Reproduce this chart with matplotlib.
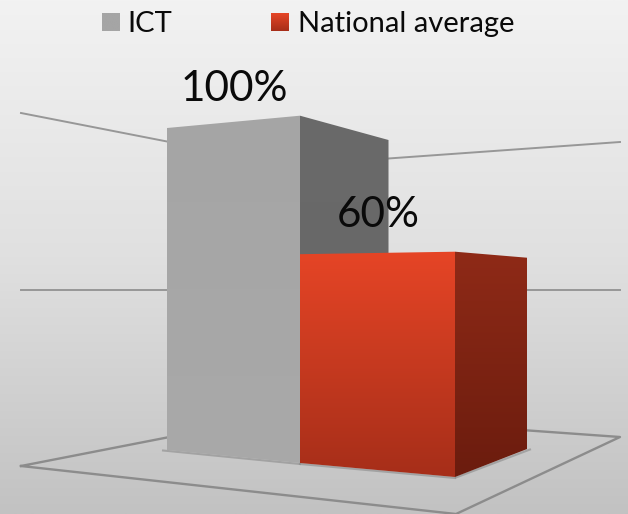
# -*- coding: utf-8 -*-
"""3D style column chart, ICT against the national average."""
import numpy as np
import matplotlib
matplotlib.use("Agg")
import matplotlib.pyplot as plt
from matplotlib.colors import LinearSegmentedColormap
from matplotlib.patches import Polygon

"DATA"
series = ["ICT", "National average"]
values = [100, 60]
labels = ["100%", "60%"]
grid_values = [50, 100]

"PROJECTION: pixel x, pixel y of the floor point, pixels per 1%"
wall_left = (21, 466, 3.53)
wall_back = (290, 413.5, 2.48)
wall_right = (620, 437, 2.95)
floor_front = (456, 514)

ict_fl = (167, 450, 3.22)
ict_fr = (300, 463, 3.473)
ict_br = (388.5, 430, 2.9)
nat_fl = (300, 463, 3.48)
nat_fr = (455, 477, 3.755)
nat_br = (527, 449, 3.188)


def up(c, v):
    return (c[0], c[1] - c[2] * v)


def base(c):
    return (c[0], c[1])


def fill(ax, pts, top_col, bot_col, zorder):
    # vertical gradient clipped to the polygon
    ys = [p[1] for p in pts]
    xs = [p[0] for p in pts]
    cm = LinearSegmentedColormap.from_list("f", [top_col, bot_col])
    im = ax.imshow(np.linspace(0, 1, 256).reshape(-1, 1), cmap=cm, aspect="auto",
                   extent=(min(xs), max(xs), max(ys), min(ys)), zorder=zorder)
    poly = Polygon(pts, closed=True, fc="none", ec="none", transform=ax.transData)
    ax.add_patch(poly)
    im.set_clip_path(poly)


fig = plt.figure(figsize=(6.28, 5.14), dpi=100)
ax = fig.add_axes([0, 0, 1, 1])
plt.rcParams["font.family"] = ["Lato", "DejaVu Sans"]

"BACKGROUND"
bg = LinearSegmentedColormap.from_list("bg", ["#f2f2f2", "#e0e0e0", "#c2c2c2"])
ax.imshow(np.linspace(0, 1, 256).reshape(-1, 1), cmap=bg, aspect="auto",
          extent=(0, 628, 514, 0), zorder=0)

"GRID AND FLOOR"
gc = "#979797"
for g in grid_values:
    a, b, c = up(wall_left, g), up(wall_back, g), up(wall_right, g)
    ax.plot([a[0], b[0], c[0]], [a[1], b[1], c[1]], color=gc, lw=1.4, zorder=1)
fx = [wall_left[0], wall_back[0], wall_right[0], floor_front[0], wall_left[0]]
fy = [wall_left[1], wall_back[1], wall_right[1], floor_front[1], wall_left[1]]
ax.plot(fx, fy, color="#8c8c8c", lw=1.7, zorder=1)

"BARS"
v = values[0]
ax.plot([ict_fl[0] - 4, ict_fr[0]], [ict_fl[1] + 0.5, ict_fr[1] + 1], color="#8a8a8a", lw=1.5,
        alpha=0.6, zorder=1.5)
fill(ax, [up(ict_fr, v), up(ict_br, v), base(ict_br), base(ict_fr)], "#6a6a6a", "#666666", 2)
fill(ax, [up(ict_fl, v), up(ict_fr, v), base(ict_fr), base(ict_fl)], "#a5a5a5", "#a9a9a9", 3)

v = values[1]
ax.plot([nat_fl[0], nat_fr[0]], [nat_fl[1] + 1, nat_fr[1] + 1], color="#8a8a8a", lw=1.5,
        alpha=0.6, zorder=3)
ax.plot([nat_fr[0] + 1, nat_br[0] + 3], [nat_fr[1] + 0.5, nat_br[1] + 0.5], color="#8a8a8a", lw=1.5,
        alpha=0.6, zorder=3)
fill(ax, [up(nat_fr, v), up(nat_br, v), base(nat_br), base(nat_fr)], "#8f2a17", "#6b1c0e", 4)
fill(ax, [up(nat_fl, v), up(nat_fr, v), base(nat_fr), base(nat_fl)], "#e64526", "#a62e19", 5)

"LABELS"
ax.text(234.5, 89, labels[0], fontsize=30.5, ha="center", va="center", color="#0a0a0a", zorder=6)
ax.text(378, 215, labels[1], fontsize=30.5, ha="center", va="center", color="#0a0a0a", zorder=6)

"LEGEND"
fill(ax, [(102, 13), (120, 13), (120, 31), (102, 31)], "#a5a5a5", "#a5a5a5", 6)
fill(ax, [(271, 13), (289, 13), (289, 31), (271, 31)], "#e64526", "#a62e19", 6)
ax.text(127, 24, series[0], fontsize=21, ha="left", va="center", color="#0a0a0a", zorder=6)
ax.text(298, 24, series[1], fontsize=21, ha="left", va="center", color="#0a0a0a", zorder=6)

ax.set_xlim(0, 628)
ax.set_ylim(514, 0)
ax.axis("off")
fig.savefig("out.png", dpi=100)
